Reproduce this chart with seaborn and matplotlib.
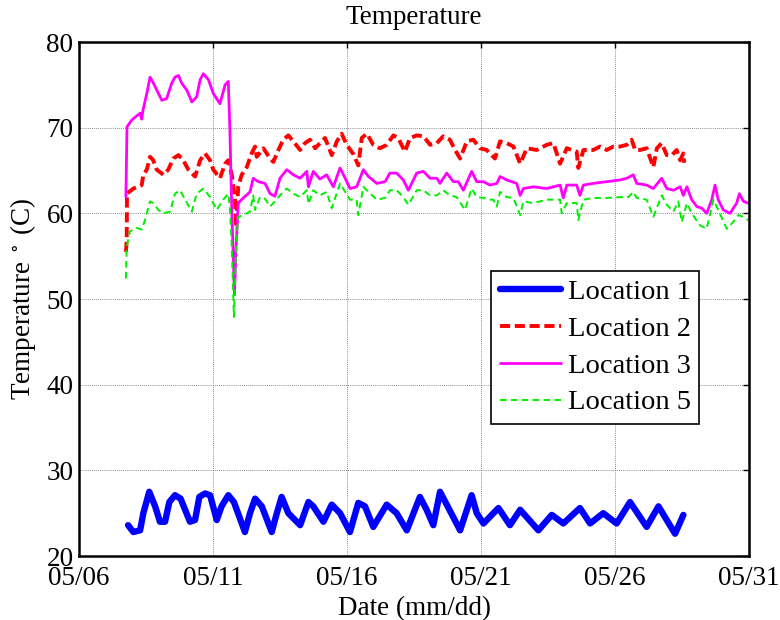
import numpy as np
import pandas as pd
import matplotlib
matplotlib.use("Agg")
import matplotlib.pyplot as plt
import seaborn as sns

# ---- data (days since 05/06 00:00, temperature in C) ----
loc1_days = [1.83, 2.03, 2.28, 2.40, 2.62, 2.84, 3.02, 3.21, 3.37, 3.58, 3.79, 4.14,
             4.33, 4.49, 4.70, 4.89, 5.14, 5.32, 5.57, 5.78, 6.19, 6.38, 6.57, 6.82,
             7.19, 7.38, 7.56, 7.81, 8.25, 8.56, 8.74, 9.12, 9.43, 9.74, 10.11, 10.42,
             10.67, 10.98, 11.48, 11.85, 12.23, 12.72, 12.97, 13.22, 13.47, 13.72, 14.22,
             14.65, 14.84, 15.09, 15.65, 16.08, 16.46, 17.14, 17.64, 18.07, 18.69, 19.07,
             19.56, 20.06, 20.56, 21.18, 21.62, 22.24, 22.55]
loc1_temp = [23.6, 22.8, 23.0, 25.0, 27.5, 25.8, 24.0, 24.0, 26.3, 27.1, 26.7, 24.0,
             24.2, 26.9, 27.3, 27.1, 24.2, 25.8, 27.1, 26.3, 22.8, 25.0, 26.7, 25.8,
             22.8, 25.0, 26.9, 25.0, 23.6, 26.3, 25.8, 24.0, 26.0, 25.0, 22.8, 26.2,
             25.8, 23.4, 26.0, 25.0, 23.0, 26.9, 25.4, 23.6, 27.5, 26.0, 23.0,
             27.1, 25.0, 23.8, 25.6, 23.6, 25.4, 23.0, 24.8, 23.8, 25.6, 23.8,
             25.0, 23.8, 26.3, 23.4, 25.8, 22.6, 24.8]

loc2_days = [1.75, 1.78, 1.79, 2.03, 2.34, 2.40, 2.53, 2.65, 2.77, 2.90, 3.15, 3.33,
             3.52, 3.71, 3.89, 4.08, 4.33, 4.52, 4.70, 4.89, 5.01, 5.26, 5.45, 5.57,
             5.70, 5.82, 5.86, 5.94, 6.07, 6.26, 6.44, 6.57, 6.63, 6.88, 7.13, 7.25,
             7.44, 7.62, 7.81, 8.00, 8.25, 8.43, 8.62, 8.81, 8.99, 9.18, 9.43, 9.62,
             9.80, 9.99, 10.24, 10.42, 10.55, 10.74, 10.98, 11.23, 11.48, 11.73, 11.91,
             12.16, 12.35, 12.60, 12.85, 13.10, 13.35, 13.59, 13.84, 14.03, 14.22, 14.47,
             14.71, 14.96, 15.21, 15.52, 15.71, 15.96, 16.21, 16.46, 16.71, 17.08, 17.45,
             17.70, 17.95, 18.20, 18.57, 18.63, 18.82, 19.19, 19.44, 19.69, 19.94, 20.19,
             20.44, 20.62, 20.75, 20.93, 21.18, 21.43, 21.56, 21.74, 21.93, 22.12, 22.30,
             22.43, 22.55, 22.58]
loc2_temp = [55.5, 56.9, 62.3, 62.9, 63.3, 64.5, 65.1, 66.6, 66.2, 65.1, 64.5, 65.1,
             66.4, 66.8, 66.2, 65.1, 64.3, 66.2, 67.0, 66.2, 65.1, 64.1, 65.8, 66.2,
             64.5, 61.6, 58.4, 63.1, 64.5, 65.4, 67.0, 67.8, 66.6, 67.6, 66.4, 66.0,
             67.4, 68.6, 69.1, 68.4, 67.4, 68.2, 68.6, 67.6, 68.2, 68.8, 66.8, 68.4,
             69.3, 68.0, 66.9, 65.6, 68.8, 69.3, 68.0, 67.6, 68.0, 69.1, 68.8,
             67.2, 68.8, 69.1, 69.0, 68.0, 68.2, 69.0, 68.6, 67.4, 66.4, 68.4,
             68.6, 67.6, 67.4, 66.4, 68.4, 68.2, 67.8, 65.8, 67.6, 67.4, 68.0,
             68.2, 65.8, 67.6, 67.2, 65.3, 67.4, 67.4, 67.8, 67.4, 67.8, 67.8,
             68.0, 68.6, 67.4, 67.4, 67.6, 65.4, 67.6, 68.2, 66.8, 66.8, 67.4,
             66.2, 67.0, 65.9]

loc3_days = [1.75, 1.79, 1.97, 2.28, 2.34, 2.39, 2.53, 2.65, 2.76, 2.90, 3.09, 3.27,
             3.46, 3.58, 3.71, 3.83, 4.02, 4.21, 4.39, 4.52, 4.64, 4.83, 5.01, 5.26,
             5.45, 5.57, 5.63, 5.70, 5.76, 5.80, 5.86, 5.94, 6.13, 6.38, 6.50, 6.69,
             6.94, 7.13, 7.31, 7.50, 7.75, 8.00, 8.25, 8.50, 8.56, 8.74, 8.99, 9.24,
             9.49, 9.74, 9.93, 10.11, 10.36, 10.61, 10.80, 11.11, 11.42, 11.60, 11.85,
             12.10, 12.29, 12.60, 12.85, 13.10, 13.35, 13.47, 13.72, 13.97, 14.15, 14.34,
             14.65, 14.84, 15.09, 15.34, 15.59, 15.71, 15.96, 16.33, 16.46, 16.58, 16.95,
             17.45, 17.95, 18.07, 18.20, 18.57, 18.69, 18.82, 19.19, 19.69, 20.19, 20.44,
             20.68, 20.81, 21.18, 21.43, 21.74, 21.93, 22.18, 22.43, 22.55, 22.68, 22.86,
             23.05, 23.24, 23.42, 23.61, 23.73, 23.85, 24.04, 24.29, 24.54, 24.64, 24.79,
             24.97]
loc3_temp = [61.9, 70.1, 70.9, 71.7, 71.0, 72.1, 74.0, 75.9, 75.3, 74.4, 73.2, 73.4,
             75.2, 75.9, 76.1, 75.2, 74.4, 73.0, 73.6, 75.6, 76.3, 75.6, 74.0, 72.8,
             75.0, 75.4, 69.7, 60.4, 54.6, 50.5, 56.0, 61.2, 61.8, 62.5, 64.1, 63.7,
             63.5, 62.3, 62.0, 64.1, 65.1, 64.5, 64.1, 64.9, 63.1, 64.9, 64.0, 64.5,
             63.1, 65.3, 64.1, 62.9, 63.1, 65.1, 64.3, 63.5, 63.7, 64.7, 64.7,
             63.9, 62.7, 64.7, 64.9, 64.1, 64.1, 63.5, 64.7, 63.7, 63.7, 62.7,
             64.9, 63.7, 63.7, 63.3, 63.5, 64.3, 63.9, 63.5, 62.1, 62.9, 63.1,
             62.9, 63.3, 61.8, 63.3, 63.3, 62.1, 63.3, 63.5, 63.7, 63.9, 64.1,
             64.5, 63.5, 63.3, 62.9, 64.1, 62.9, 62.7, 63.1, 62.1, 63.1, 61.6,
             60.8, 60.6, 60.0, 61.6, 63.3, 61.6, 60.4, 60.0, 61.2, 62.3, 61.4,
             61.2]

loc5_days = [1.75, 1.78, 1.90, 2.15, 2.34, 2.46, 2.65, 2.77, 2.96, 3.15, 3.40, 3.58,
             3.77, 3.96, 4.21, 4.39, 4.64, 4.89, 5.14, 5.38, 5.57, 5.63, 5.70, 5.78,
             5.86, 5.94, 6.13, 6.38, 6.50, 6.57, 6.75, 6.94, 7.13, 7.31, 7.50, 7.75,
             8.00, 8.25, 8.50, 8.56, 8.74, 8.99, 9.24, 9.43, 9.74, 9.93, 10.11, 10.36,
             10.42, 10.61, 10.80, 11.11, 11.42, 11.60, 11.85, 12.10, 12.29, 12.60, 12.85,
             13.10, 13.35, 13.59, 13.84, 14.09, 14.40, 14.65, 14.84, 15.09, 15.34, 15.46,
             15.59, 15.71, 15.96, 16.21, 16.46, 16.58, 16.95, 17.45, 17.95, 18.01, 18.20,
             18.57, 18.63, 18.82, 19.19, 19.69, 20.19, 20.50, 20.68, 20.81, 21.18, 21.43,
             21.74, 21.93, 22.18, 22.36, 22.49, 22.68, 22.86, 23.17, 23.42, 23.67, 23.85,
             24.17, 24.41, 24.60, 24.79, 24.97]
loc5_temp = [52.4, 56.1, 57.9, 58.3, 58.1, 59.2, 61.4, 61.2, 60.4, 60.0, 60.2, 62.3,
             62.7, 61.6, 60.2, 62.3, 62.9, 61.9, 60.4, 61.6, 62.3, 60.6, 56.1, 47.9,
             56.1, 59.6, 59.8, 60.2, 62.1, 60.4, 61.9, 61.7, 60.8, 61.4, 62.1, 62.9,
             62.3, 61.9, 62.7, 61.1, 62.7, 62.1, 62.5, 60.6, 63.5, 62.5, 61.6, 61.6,
             59.8, 63.1, 62.5, 61.6, 61.8, 62.7, 62.7, 61.9, 61.0, 62.7, 62.7,
             62.1, 62.1, 62.7, 62.1, 61.9, 60.4, 62.9, 61.9, 61.8, 61.6, 61.6,
             60.8, 62.5, 61.9, 61.8, 59.8, 61.4, 61.2, 61.6, 61.6, 60.0, 61.2,
             61.2, 59.2, 61.6, 61.8, 61.8, 61.9, 61.9, 62.5, 61.8, 61.6, 59.6,
             62.1, 61.0, 60.2, 61.4, 59.0, 61.2, 60.0, 58.6, 58.2, 61.6, 60.4,
             58.2, 59.0, 59.8, 59.6, 59.2]

series_labels = ["Location 1", "Location 2", "Location 3", "Location 5"]
tick_labels = ["05/06", "05/11", "05/16", "05/21", "05/26", "05/31"]
y_ticks = [20, 30, 40, 50, 60, 70, 80]

# ---- styling ----
sns.set_theme(style="white")
plt.rcParams["font.family"] = ["Liberation Serif", "DejaVu Serif"]
plt.rcParams["mathtext.fontset"] = "stix"
plt.rcParams["text.color"] = "black"
plt.rcParams["axes.labelcolor"] = "black"
plt.rcParams["xtick.color"] = "black"
plt.rcParams["ytick.color"] = "black"

start = pd.Timestamp("2013-05-06")


def to_dates(days):
    return start + pd.to_timedelta(np.array(days), unit="D")


fig = plt.figure(figsize=(7.8, 6.2), dpi=100)
ax = fig.add_axes([0.1013, 0.1032, 0.8590, 0.8290])

styles = [
    (loc1_days, loc1_temp, "#0000ff", "-", 4.6),
    (loc2_days, loc2_temp, "#ff0000", (0, (2.6, 1.2)), 2.8),
    (loc3_days, loc3_temp, "#ff00ff", "-", 2.0),
    (loc5_days, loc5_temp, "#00ee00", (0, (3.4, 2.2)), 1.4),
]
for (d, t, c, ls, lw), lab in zip(styles, series_labels):
    df = pd.DataFrame({"date": to_dates(d), "temp": t})
    sns.lineplot(data=df, x="date", y="temp", color=c, linestyle=ls, linewidth=lw,
                 label=lab, ax=ax, sort=False, estimator=None)

tick_dates = [start + pd.Timedelta(days=5 * i) for i in range(len(tick_labels))]
ax.set_xlim(start, start + pd.Timedelta(days=25))
ax.set_xticks(tick_dates)
ax.set_xticklabels(tick_labels)
ax.set_ylim(20, 80)
ax.set_yticks(y_ticks)

ax.grid(True, color="#666666", linestyle=(0, (1, 1.5)), linewidth=0.6)
for s in ax.spines.values():
    s.set_visible(True)
    s.set_color("black")
    s.set_linewidth(1.8)
ax.tick_params(direction="in", length=4, width=1.0, top=True, right=True,
               labelsize=19.5, colors="black")
ax.tick_params(axis="x", pad=7)
ax.tick_params(axis="y", pad=4)

ax.set_title("Temperature", fontsize=19.5, pad=13)
ax.set_xlabel("Date (mm/dd)", fontsize=19.5, labelpad=4)
ax.set_ylabel("Temperature $^\\circ$ (C)", fontsize=19.5, labelpad=6)

leg = ax.legend(loc="upper left", bbox_to_anchor=(0.615, 0.555), fontsize=20.5,
                frameon=True, fancybox=False, edgecolor="black", framealpha=1,
                handlelength=2.15, handletextpad=0.25, labelspacing=0.38,
                borderpad=0.3, borderaxespad=0)
leg.get_frame().set_linewidth(1.2)

fig.savefig("out.png", dpi=100)
